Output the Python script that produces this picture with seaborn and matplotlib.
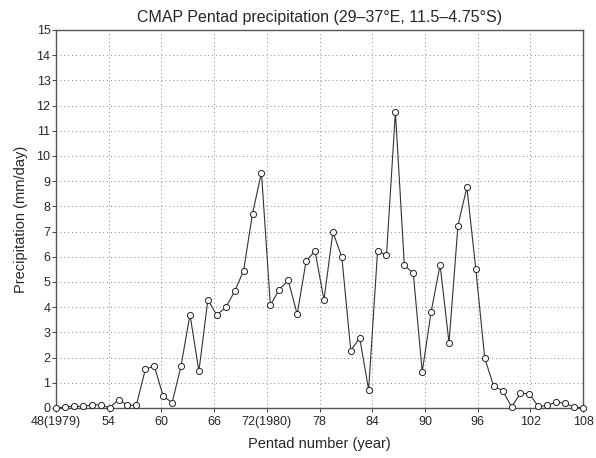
import numpy as np
import pandas as pd
import matplotlib
matplotlib.use("Agg")
import matplotlib.pyplot as plt
import seaborn as sns

# ---- data ----
precip = [0.0, 0.04, 0.07, 0.06, 0.12, 0.12, 0.01, 0.33, 0.10, 0.12,
          1.53, 1.67, 0.47, 0.21, 1.67, 3.71, 1.46, 4.29, 3.69, 3.99,
          4.63, 5.45, 7.71, 9.34, 4.08, 4.70, 5.07, 3.72, 5.83, 6.23,
          4.29, 6.98, 5.99, 2.28, 2.78, 0.72, 6.23, 6.07, 11.75, 5.66,
          5.35, 1.44, 3.82, 5.68, 2.59, 7.24, 8.76, 5.51, 1.97, 0.87,
          0.69, 0.05, 0.58, 0.56, 0.06, 0.10, 0.24, 0.18, 0.05, 0.0]
pentad_start, pentad_end = 48, 108
xtick_values = [48, 54, 60, 66, 72, 78, 84, 90, 96, 102, 108]
xtick_labels = ["48(1979)", "54", "60", "66", "72(1980)", "78", "84", "90",
                "96", "102", "108"]
ytick_values = list(range(0, 16))

pentad = np.linspace(pentad_start, pentad_end, len(precip))
df = pd.DataFrame({"pentad": pentad, "precip": precip})

sns.set_theme(style="white")
plt.rcParams["font.family"] = ["Liberation Sans", "DejaVu Sans"]

fig = plt.figure(figsize=(5.96, 4.58), dpi=100)
ax = fig.add_axes([56 / 596, 1 - 408 / 458, (583 - 56) / 596, (408 - 30) / 458])

sns.lineplot(data=df, x="pentad", y="precip", ax=ax, color="#333333",
             linewidth=0.8, marker="o", markersize=4.4,
             markerfacecolor="white", markeredgecolor="#222222",
             markeredgewidth=0.7, zorder=3, clip_on=False)

ax.set_xlim(pentad_start, pentad_end)
ax.set_ylim(0, 15)
ax.set_xticks(xtick_values)
ax.set_xticklabels(xtick_labels)
ax.set_yticks(ytick_values)
ax.grid(True, linestyle=(0, (1, 3)), color="#888888", linewidth=0.7)
ax.tick_params(axis="both", labelsize=9, length=3, width=0.7,
               color="#444444", direction="out", bottom=True, left=True)
ax.tick_params(axis="x", pad=2.5)
ax.tick_params(axis="y", pad=1)
for s in ax.spines.values():
    s.set_color("#555555")
    s.set_linewidth(1.0)

ax.set_title("CMAP Pentad precipitation (29\u201337\u00b0E, 11.5\u20134.75\u00b0S)",
             fontsize=11.5, pad=6)
ax.set_xlabel("Pentad number (year)", fontsize=10.5, labelpad=7)
ax.set_ylabel("Precipitation (mm/day)", fontsize=10.5, labelpad=6)

fig.savefig("out.png", dpi=100, facecolor="white")
